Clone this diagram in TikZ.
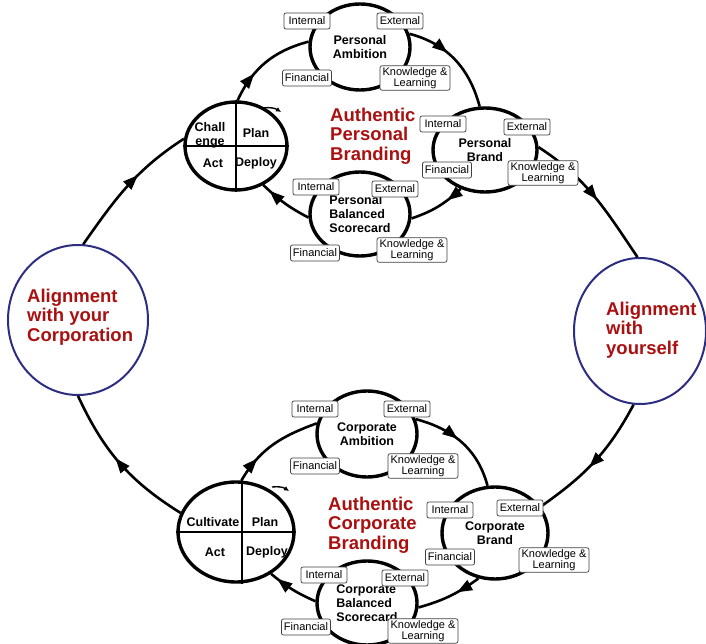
\documentclass[tikz,border=0pt]{standalone}
\usepackage{fontspec}
\setmainfont{Liberation Sans}
\usepackage{xcolor}
\usetikzlibrary{shapes.geometric,calc,arrows.meta,decorations.markings}
\definecolor{brandred}{RGB}{170,16,16}
\definecolor{ringblue}{RGB}{45,45,130}

\begin{document}
\begin{tikzpicture}[x=1pt, y=1pt, draw=black,
  ring/.style={ellipse, draw, line width=3.4pt, inner sep=0pt, align=center,
    font=\fontsize{12.5}{14}\selectfont\bfseries},
  bigring/.style={ellipse, draw=ringblue, line width=2pt, inner sep=0pt},
  tag/.style={draw=black!75, line width=0.7pt, rounded corners=2pt, fill=white,
    align=center, inner xsep=2.5pt, inner ysep=1.5pt, minimum height=16pt,
    minimum width=46pt, font=\fontsize{11}{10}\selectfont},
  quad/.style={font=\fontsize{12.5}{14}\selectfont\bfseries, align=center, inner sep=0pt},
  brand/.style={font=\fontsize{18.5}{19.5}\selectfont\bfseries, text=brandred,
    align=left, inner sep=0pt},
  flow/.style={line width=2.6pt, decoration={markings,
    mark=at position #1 with {\arrow{Triangle[length=15pt,width=11pt]}}},
    postaction={decorate}},
  flow/.default=0.5]

  \useasboundingbox (0,0) rectangle (706,643);

  % alignment rings
  \node[bigring, minimum width=140pt, minimum height=150pt] (alignC) at (78,323) {};
  \node[bigring, minimum width=132pt, minimum height=146pt] (alignY) at (640,312) {};
  \node[brand, anchor=west] (alignC-txt) at (27,326) {Alignment\\with your\\Corporation};
  \node[brand, anchor=west] (alignY-txt) at (606,313) {Alignment\\with\\yourself};

  % PDCA wheels
  \node[ring, minimum width=102pt, minimum height=88pt] (pdcaP) at (236,497) {};
  \node[ring, minimum width=116pt, minimum height=100pt] (pdcaC) at (236,111) {};
  \draw[line width=2.6pt] (pdcaP.north) -- (pdcaP.south) (pdcaP.west) -- (pdcaP.east);
  \draw[line width=2.6pt] ($(pdcaC.north)+(6,0)$) -- ($(pdcaC.south)+(6,0)$)
    (pdcaC.west) -- (pdcaC.east);

  \node[quad] (pdcaP-c) at ([shift={(-26,11)}]pdcaP.center) {Chall\\enge};
  \node[quad] (pdcaP-p) at ([shift={(20,13)}]pdcaP.center) {Plan};
  \node[quad] (pdcaP-a) at ([shift={(-23,-17)}]pdcaP.center) {Act};
  \node[quad] (pdcaP-d) at ([shift={(20,-17)}]pdcaP.center) {Deploy};

  \node[quad] (pdcaC-c) at ([shift={(-23,10)}]pdcaC.center) {Cultivate};
  \node[quad] (pdcaC-p) at ([shift={(29,10)}]pdcaC.center) {Plan};
  \node[quad] (pdcaC-a) at ([shift={(-21,-20)}]pdcaC.center) {Act};
  \node[quad] (pdcaC-d) at ([shift={(31,-20)}]pdcaC.center) {Deploy};

  \draw[line width=1.4pt, -{Latex[length=5pt,width=5pt]}] (263,535) to[bend left=20] (281,531);
  \draw[line width=1.4pt, -{Latex[length=5pt,width=5pt]}] (272,156) to[bend left=20] (289,152);

  % scorecard rings
  \node[ring, minimum width=100pt, minimum height=86pt] (pamb) at (360,596) {Personal\\Ambition};
  \node[ring, minimum width=104pt, minimum height=84pt] (pbrand) at (485,493) {Personal\\Brand};
  \node[ring, minimum width=100pt, minimum height=84pt, align=left] (pbsc) at (360,429)
    {Personal\\Balanced\\Scorecard};
  \node[ring, minimum width=100pt, minimum height=86pt] (camb) at (367,209) {Corporate\\Ambition};
  \node[ring, minimum width=106pt, minimum height=92pt] (cbrand) at (495,110) {Corporate\\Brand};
  \node[ring, minimum width=100pt, minimum height=84pt, align=left] (cbsc) at (367,40)
    {Corporate\\Balanced\\Scorecard};

  \node[brand, anchor=west] (ptitle) at (330,507) {Authentic\\Personal\\Branding};
  \node[brand, anchor=west] (ctitle) at (328,118) {Authentic\\Corporate\\Branding};

  % personal cycle
  \draw[flow=0.33] (pdcaP.88) to[out=65, in=195] (pamb.174);
  \draw[flow=0.4] (pamb.15) to[out=-15, in=105] (pbrand.97);
  \draw[flow=0.3] (pbrand.238) to[bend left=12] (pbsc.355);
  \draw[flow=0.85] (pbsc.184) to[bend left=8] (pdcaP.305);

  % corporate cycle
  \draw[flow=0.28] (pdcaC.84) to[out=60, in=200] (camb.168);
  \draw[flow=0.45] (camb.17) to[out=-15, in=105] (cbrand.99);
  \draw[flow=0.38] (cbrand.250) to[bend left=10] (cbsc.355);
  \draw[flow=0.85] (cbsc.178) to[bend left=8] (pdcaC.310);

  % outer loop
  \draw[flow=0.53] (pbrand.3) to[out=-33, in=124] (alignY.92);
  \draw[flow=0.55] (alignY.265) to[out=242, in=35] (cbrand.30);
  \draw[flow=0.54] (pdcaC.161) to[out=148, in=-65] (alignC.270);
  \draw[flow=0.6] (alignC.86) to[out=55, in=213] (pdcaP.172);

  % perspective tags
  \foreach \c/\px/\py in {pamb/307/622, pbrand/443/519, pbsc/316/456,
                          camb/315/234, cbrand/450/133, cbsc/324/68}
    \node[tag] (\c-int) at (\px,\py) {Internal};
  \foreach \c/\px/\py in {pamb/400/622, pbrand/527/516, pbsc/395/454,
                          camb/407/234, cbrand/520/135, cbsc/405/65}
    \node[tag] (\c-ext) at (\px,\py) {External};
  \foreach \c/\px/\py in {pamb/307/565, pbrand/447/473, pbsc/315/390,
                          camb/315/177, cbrand/450/86, cbsc/306/16}
    \node[tag] (\c-fin) at (\px,\py) {Financial};
  \foreach \c/\px/\py in {pamb/415/565, pbrand/543/470, pbsc/412/393,
                          camb/423/177, cbrand/554/83, cbsc/423/12}
    \node[tag] (\c-kl) at (\px,\py) {Knowledge \&\\Learning};
\end{tikzpicture}
\end{document}
